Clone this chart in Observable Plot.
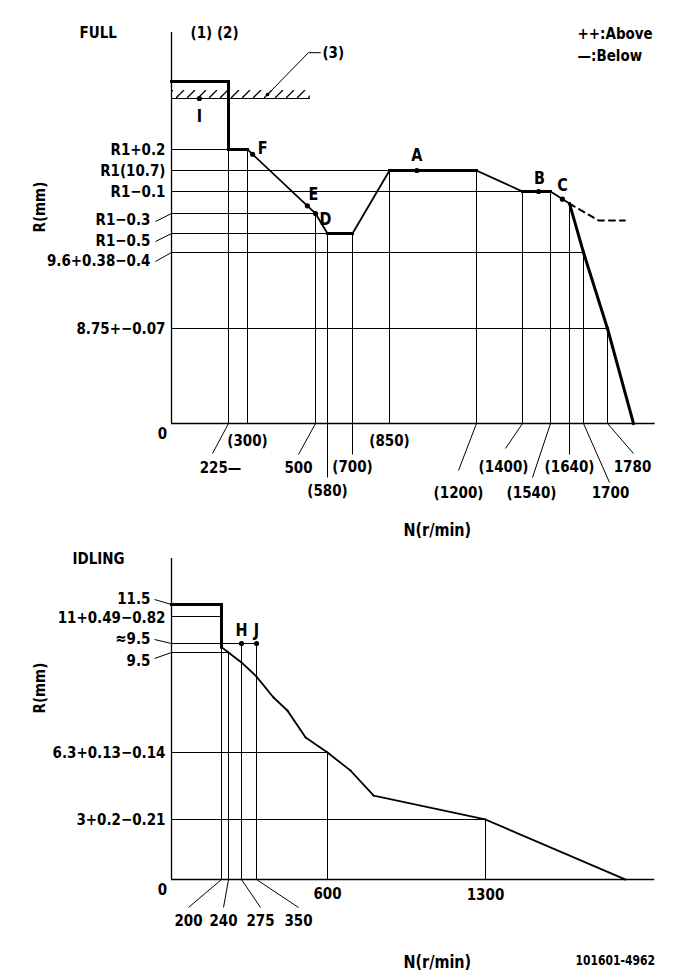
<!DOCTYPE html>
<html><head><meta charset="utf-8">
<script src="https://cdn.jsdelivr.net/npm/d3@7"></script>
<script src="https://cdn.jsdelivr.net/npm/@observablehq/plot@0.6"></script>
<style>
html,body{margin:0;padding:0;background:#fff;}
#wrap{width:681px;height:979px;overflow:hidden;}
#wrap svg{display:block;}
</style></head><body><div id="wrap"></div>
<script>
// ================= FULL (governor, full load) =================
// N (r/min) tick values and their labels
const fullTickN      = [225, 300, 500, 580, 700, 850, 1200, 1400, 1540, 1640, 1700, 1780];
const fullTickLabels = ["225—", "(300)", "500", "(580)", "(700)", "(850)", "(1200)", "(1400)", "(1540)", "(1640)", "1700", "1780"];
// rack position R (mm) reached by the curve at each tick (top of its grid line)
const fullTickR      = [10.9, 10.9, 10.4, 10.2, 10.2, 10.7, 10.7, 10.6, 10.6, 10.49, 9.6, 8.75];
// R (mm) levels and labels
const fullLevelR      = [10.9, 10.7, 10.6, 10.4, 10.2, 9.6, 8.75];
const fullLevelLabels = ["R1+0.2", "R1(10.7)", "R1−0.1", "R1−0.3", "R1−0.5", "9.6+0.38−0.4", "8.75+−0.07"];
const fullLevelN      = [300, 850, 1400, 500, 580, 1700, 1780];   // speed where each level meets the curve
// characteristic curve
const fullCurveN = [0, 225, 225, 300, 500, 580, 700, 850, 1200, 1400, 1540, 1640, 1700, 1780, 1870];
const fullCurveR = [11.8, 11.8, 10.9, 10.9, 10.4, 10.2, 10.2, 10.7, 10.7, 10.6, 10.6, 10.49, 9.6, 8.75, 0];
// dashed "below" branch
const fullDashN = [1640, 1750, 1840];
const fullDashR = [10.49, 10.33, 10.33];
// measuring points
const fullPointLabels = ["I", "F", "E", "D", "A", "B", "C"];
const fullPointN      = [110, 315, 476, 500, 960, 1480, 1603];
const fullPointR      = [11.5, 10.855, 10.47, 10.4, 10.7, 10.6, 10.53];
// stop (3)
const stopR = 11.5, stopN = [0, 485];
const fullAxisN = [0, 1945], fullAxisR = [0, 12.6];

// ================= IDLING =================
const idleTickN      = [200, 240, 275, 350, 600, 1300];
const idleTickLabels = ["200", "240", "275", "350", "600", "1300"];
const idleTickR      = [9.6, 9.5, 9.6, 9.6, 6.3, 3];
const idleLevelR      = [11.5, 11, 9.6, 9.5, 6.3, 3];
const idleLevelLabels = ["11.5", "11+0.49−0.82", "≈9.5", "9.5", "6.3+0.13−0.14", "3+0.2−0.21"];
const idleLevelN      = [200, 200, 350, 240, 600, 1300];
const idleCurveN = [0, 200, 200, 240, 275, 350, 410, 459, 523, 600, 702, 804, 1300, 1920];
const idleCurveR = [11.5, 11.5, 9.56, 9.5, 9.18, 8.73, 8.06, 7.64, 6.78, 6.3, 5.41, 4.18, 3, 0];
const idlePointLabels = ["H", "J"];
const idlePointN      = [275, 350];
const idlePointR      = [9.6, 9.6];
const idleAxisN = [0, 2050], idleAxisR = [0, 12.5];

// ================= layout / styles (schematic, non-proportional axes) =================
const fullXKnots = [0, 225, 300, 500, 580, 700, 850, 1200, 1400, 1540, 1640, 1700, 1780, 1870];
const fullXPix   = [171, 228, 247, 315, 327, 352, 389, 476, 522, 550, 569, 583, 607, 633];
const fullYKnots = [0, 8.75, 9.6, 10.2, 10.4, 10.6, 10.7, 10.9, 11.5, 11.8, 12.6];
const fullYPix   = [423, 328, 252, 233, 213, 191, 170, 149, 98, 81, 32];
const idleXKnots = [0, 200, 240, 275, 350, 600, 1300];
const idleXPix   = [171, 221, 228, 241, 256, 327, 485];
const idleYKnots = [0, 3, 6.3, 9.5, 9.6, 11, 11.5, 12.5];
const idleYPix   = [339, 279, 212, 112, 103, 76, 64, 18];

const fullSegWidth = [3, 3, 3, 1.8, 1.8, 3, 1.8, 3, 1.8, 3, 1.8, 3, 3, 3];
const idleSegWidth = [3, 3, 1.8, 1.8, 1.8, 1.8, 1.8, 1.8, 1.8, 1.8, 1.8, 1.8, 1.8];
// tick label offsets [labelDx, labelDy, leaderDx, leaderDy] (leader null = none)
const fullTickLayout = [[-8,44,-16,30],[0,17,null,null],[-17,44,-17,31],[0,67,0,54],[0,43,0,31],[0,17,null,null],
  [-18,69,-18,47],[-19,43,-17,25],[-19,69,-18,54],[0,43,0,31],[27,69,26,59],[25,43,26,30]];
const idleTickLayout = [[-33,41,-33,28],[-5,41,-5,28],[19,41,19,28],[42,41,42,28],[0,14,null,null],[0,15,null,null]];
// level label layout [labelDx, labelDy, leaderDx, leaderDy]
const fullLevelLayout = [[-6,0,null,null],[-6,0,null,null],[-6,0,null,null],[-21,6,-16,8],[-21,7,-16,8],[-21,8,-16,9],[-6,0,null,null]];
const idleLevelLayout = [[-21,-6,-17,-5],[-6,1,null,null],[-21,-5,-17,-4],[-21,8,-17,6],[-6,0,null,null],[-6,0,null,null]];
const fullPointLayout = [[0,18],[10,-6],[6,-11],[10,6],[0,-15],[1,-13],[0,-14]];
const idlePointLayout = [[0,-13],[0,-13]];

const FONT = '"DejaVu Sans Condensed","Liberation Sans Narrow","DejaVu Sans",sans-serif';
const FS = 15;
const TEXT_STRETCH = 1.1;   // the reference lettering is taller than it is wide

function build(cfg) {
  const sx = Plot.scale({x: {type: "linear", domain: cfg.xKnots, range: cfg.xPix}});
  const sy = Plot.scale({y: {type: "linear", domain: cfg.yKnots, range: cfg.yPix}});
  const ox = (n, d) => sx.invert(sx.apply(n) + d);
  const oy = (r, d) => sy.invert(sy.apply(r) + d);
  const T = d3.range(cfg.tickN.length), L = d3.range(cfg.levelR.length);
  const S = d3.range(cfg.curveN.length - 1), P = d3.range(cfg.pointN.length);
  const tl = T.filter(i => cfg.tickLayout[i][2] != null);
  const ll = L.filter(i => cfg.levelLayout[i][2] != null);
  const marks = [
    // grid rules
    Plot.ruleX(T, {x: i => cfg.tickN[i], y1: 0, y2: i => cfg.tickR[i], stroke: "black", strokeWidth: 1}),
    Plot.ruleY(L, {y: i => cfg.levelR[i], x1: 0, x2: i => cfg.levelN[i], stroke: "black", strokeWidth: 1}),
    // axes
    Plot.ruleX([0], {y1: cfg.axisR[0], y2: cfg.axisR[1], stroke: "black", strokeWidth: 1.3}),
    Plot.ruleY([0], {x1: cfg.axisN[0], x2: cfg.axisN[1], stroke: "black", strokeWidth: 1.3}),
    // tick labels and leaders
    Plot.link(tl, {x1: i => cfg.tickN[i], y1: 0, x2: i => ox(cfg.tickN[i], cfg.tickLayout[i][2]), y2: i => oy(0, cfg.tickLayout[i][3]), stroke: "black", strokeWidth: 1}),
    Plot.text(T, {x: i => ox(cfg.tickN[i], cfg.tickLayout[i][0]), y: i => oy(0, cfg.tickLayout[i][1]), text: i => cfg.tickLabels[i], fontSize: FS, fontWeight: "bold"}),
    Plot.text([0], {x: 0, y: 0, text: d => "0", dx: -9, dy: 10, fontSize: FS, fontWeight: "bold"}),
    // level labels and leaders
    Plot.link(ll, {x1: 0, y1: i => cfg.levelR[i], x2: i => ox(0, cfg.levelLayout[i][2]), y2: i => oy(cfg.levelR[i], cfg.levelLayout[i][3]), stroke: "black", strokeWidth: 1}),
    Plot.text(L, {x: i => ox(0, cfg.levelLayout[i][0]), y: i => oy(cfg.levelR[i], cfg.levelLayout[i][1]), text: i => cfg.levelLabels[i], textAnchor: "end", fontSize: FS, fontWeight: "bold"}),
    // curve
    Plot.link(S, {x1: i => cfg.curveN[i], y1: i => cfg.curveR[i], x2: i => cfg.curveN[i+1], y2: i => cfg.curveR[i+1], strokeWidth: i => cfg.segWidth[i], stroke: "black", strokeLinecap: "square"}),
    // points
    Plot.dot(P, {x: i => cfg.pointN[i], y: i => cfg.pointR[i], r: 2.6, fill: "black", stroke: "none"}),
    Plot.text(P, {x: i => ox(cfg.pointN[i], cfg.pointLayout[i][0]), y: i => oy(cfg.pointR[i], cfg.pointLayout[i][1]), text: i => cfg.pointLabels[i], fontSize: 16, fontWeight: "bold"}),
    ...cfg.extra(ox, oy)
  ];
  return Plot.plot({
    width: 681, height: cfg.height, margin: 0,
    x: {type: "linear", domain: cfg.xKnots, range: cfg.xPix, axis: null},
    y: {type: "linear", domain: cfg.yKnots, range: cfg.yPix, axis: null},
    style: {fontFamily: FONT, fontSize: FS + "px", color: "black", background: "white", overflow: "visible"},
    marks
  });
}

const full = build({
  height: 540, xKnots: fullXKnots, xPix: fullXPix, yKnots: fullYKnots, yPix: fullYPix,
  tickN: fullTickN, tickLabels: fullTickLabels, tickR: fullTickR, tickLayout: fullTickLayout,
  levelR: fullLevelR, levelLabels: fullLevelLabels, levelN: fullLevelN, levelLayout: fullLevelLayout,
  curveN: fullCurveN, curveR: fullCurveR, segWidth: fullSegWidth,
  pointN: fullPointN, pointR: fullPointR, pointLabels: fullPointLabels, pointLayout: fullPointLayout,
  axisN: fullAxisN, axisR: fullAxisR,
  extra: (ox, oy) => {
    const leadN = [359, 479, 533], leadR = [11.57, 12.27, 12.27];
    return [
      Plot.rect([stopR], {x1: stopN[0], x2: stopN[1], y1: d => d, y2: d => d, insetTop: -8, fill: "url(#hatch)"}),
      Plot.ruleY([stopR], {x1: stopN[0], x2: stopN[1], stroke: "black", strokeWidth: 1.2}),
      Plot.line(d3.range(3), {x: i => leadN[i], y: i => leadR[i], stroke: "black", strokeWidth: 1}),
      Plot.dot([0], {x: leadN[0], y: leadR[0], r: 1.8, fill: "black", stroke: "none"}),
      Plot.text(["(3)"], {x: leadN[2], y: leadR[2], dx: 2, textAnchor: "start", fontSize: FS, fontWeight: "bold"}),
      Plot.line(d3.range(fullDashN.length), {x: i => fullDashN[i], y: i => fullDashR[i], stroke: "black", strokeWidth: 2, strokeDasharray: "6,5"}),
      Plot.text(["FULL"], {frameAnchor: "top-left", dx: 79, dy: 26, textAnchor: "start", fontSize: FS, fontWeight: "bold"}),
      Plot.text(["(1) (2)"], {frameAnchor: "top-left", dx: 190, dy: 26, textAnchor: "start", fontSize: FS, fontWeight: "bold"}),
      Plot.text(["++:Above"], {frameAnchor: "top-left", dx: 577, dy: 27, textAnchor: "start", fontSize: FS, fontWeight: "bold"}),
      Plot.text(["—:Below"], {frameAnchor: "top-left", dx: 577, dy: 49, textAnchor: "start", fontSize: FS, fontWeight: "bold"}),
      Plot.text(["R(mm)"], {frameAnchor: "top-left", dx: 33, dy: 232, rotate: -90, fontSize: FS, fontWeight: "bold"}),
      Plot.text(["N(r/min)"], {frameAnchor: "top-left", dx: 403, dy: 523, fontSize: 16, fontWeight: "bold"})
    ];
  }
});

const idle = build({
  height: 439, xKnots: idleXKnots, xPix: idleXPix, yKnots: idleYKnots, yPix: idleYPix,
  tickN: idleTickN, tickLabels: idleTickLabels, tickR: idleTickR, tickLayout: idleTickLayout,
  levelR: idleLevelR, levelLabels: idleLevelLabels, levelN: idleLevelN, levelLayout: idleLevelLayout,
  curveN: idleCurveN, curveR: idleCurveR, segWidth: idleSegWidth,
  pointN: idlePointN, pointR: idlePointR, pointLabels: idlePointLabels, pointLayout: idlePointLayout,
  axisN: idleAxisN, axisR: idleAxisR,
  extra: () => [
    Plot.text(["IDLING"], {frameAnchor: "top-left", dx: 72, dy: 12, textAnchor: "start", fontSize: FS, fontWeight: "bold"}),
    Plot.text(["R(mm)"], {frameAnchor: "top-left", dx: 33, dy: 173, rotate: -90, fontSize: FS, fontWeight: "bold"}),
    Plot.text(["N(r/min)"], {frameAnchor: "top-left", dx: 403, dy: 415, fontSize: 16, fontWeight: "bold"}),
    Plot.text(["101601-4962"], {frameAnchor: "top-left", dx: 575, dy: 415, textAnchor: "start", fontSize: 12, fontWeight: "bold"})
  ]
});

// hatch pattern for the stop line, aligned to the stop level
const hatchTop = full.scale("y").apply(stopR) - 8;
d3.select(full).insert("defs", ":first-child").html(
  `<pattern id="hatch" patternUnits="userSpaceOnUse" x="0" y="${hatchTop}" width="11" height="8"><path d="M0,8L8,0" stroke="black" stroke-width="1.3"/></pattern>`);

// stretch lettering vertically around each label's own anchor
for (const svg of [full, idle]) {
  d3.select(svg).selectAll("text").each(function() {
    const x = +this.getAttribute("x") || 0, y = +this.getAttribute("y") || 0;
    const tr = this.getAttribute("transform") || "";
    this.setAttribute("transform", `${tr} translate(${x},${y}) scale(1,${TEXT_STRETCH}) translate(${-x},${-y})`.trim());
  });
}
document.getElementById("wrap").append(full, idle);
</script></body></html>
